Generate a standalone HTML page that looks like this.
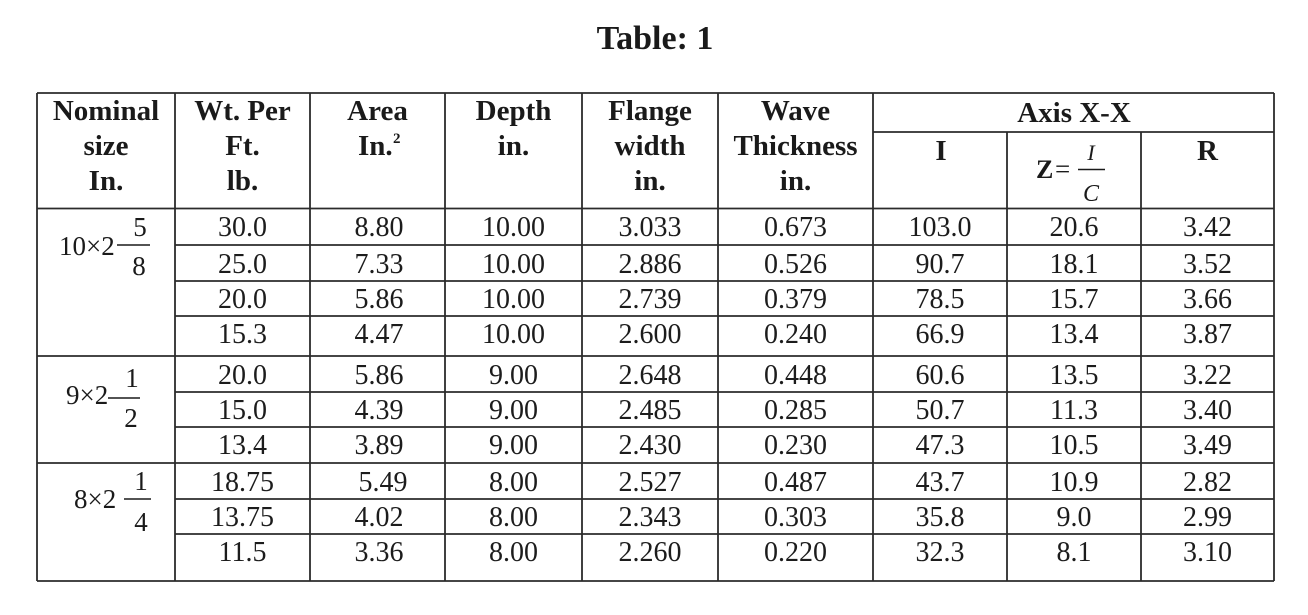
<!DOCTYPE html>
<html>
<head>
<meta charset="utf-8">
<style>
  html,body{margin:0;padding:0;background:#fff;}
  body{width:1308px;height:615px;overflow:hidden;}
  svg{display:block;}
  .t{font-family:"Liberation Serif",serif;fill:#1a1a1a;}
  .h{font-family:"Liberation Serif",serif;font-weight:bold;font-size:29px;fill:#1a1a1a;}
  .d{font-family:"Liberation Serif",serif;font-size:28px;fill:#1c1c1c;}
</style>
</head>
<body>
<svg width="1308" height="615" viewBox="0 0 1308 615" xmlns="http://www.w3.org/2000/svg">
  <rect width="1308" height="615" fill="#fff"/>
  <text class="t" x="655" y="49" text-anchor="middle" font-size="34" font-weight="bold">Table: 1</text>

  <g stroke="#2b2b2b" stroke-width="1.8" fill="none">
    <line x1="37" y1="93" x2="1274" y2="93"/>
    <line x1="873" y1="132" x2="1274" y2="132"/>
    <line x1="37" y1="208.5" x2="1274" y2="208.5"/>
    <line x1="37" y1="356" x2="1274" y2="356"/>
    <line x1="37" y1="463" x2="1274" y2="463"/>
    <line x1="37" y1="581" x2="1274" y2="581"/>
    <line x1="175" y1="245" x2="1274" y2="245"/>
    <line x1="175" y1="281" x2="1274" y2="281"/>
    <line x1="175" y1="316" x2="1274" y2="316"/>
    <line x1="175" y1="392" x2="1274" y2="392"/>
    <line x1="175" y1="427" x2="1274" y2="427"/>
    <line x1="175" y1="499" x2="1274" y2="499"/>
    <line x1="175" y1="534" x2="1274" y2="534"/>
    <line x1="37" y1="93" x2="37" y2="581"/>
    <line x1="175" y1="93" x2="175" y2="581"/>
    <line x1="310" y1="93" x2="310" y2="581"/>
    <line x1="445" y1="93" x2="445" y2="581"/>
    <line x1="582" y1="93" x2="582" y2="581"/>
    <line x1="718" y1="93" x2="718" y2="581"/>
    <line x1="873" y1="93" x2="873" y2="581"/>
    <line x1="1007" y1="132" x2="1007" y2="581"/>
    <line x1="1141" y1="132" x2="1141" y2="581"/>
    <line x1="1274" y1="93" x2="1274" y2="581"/>
  </g>

  <g class="h" text-anchor="middle">
    <text x="106" y="120">Nominal</text>
    <text x="106" y="155">size</text>
    <text x="106" y="190">In.</text>

    <text x="242.5" y="120">Wt. Per</text>
    <text x="242.5" y="155">Ft.</text>
    <text x="242.5" y="190">lb.</text>

    <text x="377.5" y="120">Area</text>

    <text x="513.5" y="120">Depth</text>
    <text x="513.5" y="155">in.</text>

    <text x="650" y="120">Flange</text>
    <text x="650" y="155">width</text>
    <text x="650" y="190">in.</text>

    <text x="795.5" y="120">Wave</text>
    <text x="795.5" y="155">Thickness</text>
    <text x="795.5" y="190">in.</text>

    <text x="1074" y="122">Axis X-X</text>
    <text x="941" y="160">I</text>
    <text x="1207.5" y="160">R</text>
  </g>
  <text class="h" x="358" y="155">In.</text>
  <text class="h" x="393" y="143" style="font-size:15px">2</text>

  <!-- Z = I/C -->
  <text class="t" x="1036" y="178" style="font-size:26px;font-weight:bold">Z</text>
  <text class="t" x="1055" y="178" style="font-size:27px">=</text>
  <line x1="1078" y1="169.5" x2="1105" y2="169.5" stroke="#1a1a1a" stroke-width="1.5"/>
  <text class="t" x="1091" y="160" style="font-size:22px;font-style:italic" text-anchor="middle">I</text>
  <text class="t" x="1091" y="201" style="font-size:24px;font-style:italic" text-anchor="middle">C</text>

  <g class="t" style="font-size:27px">
    <text x="59" y="255">10×2</text>
    <line x1="117" y1="245" x2="150" y2="245" stroke="#1a1a1a" stroke-width="1.5"/>
    <text x="140" y="236" text-anchor="middle">5</text>
    <text x="139" y="275" text-anchor="middle">8</text>

    <text x="66" y="404">9×2</text>
    <line x1="108" y1="398" x2="140" y2="398" stroke="#1a1a1a" stroke-width="1.5"/>
    <text x="132" y="387" text-anchor="middle">1</text>
    <text x="131" y="427" text-anchor="middle">2</text>

    <text x="74" y="508">8×2</text>
    <line x1="124" y1="499" x2="151" y2="499" stroke="#1a1a1a" stroke-width="1.5"/>
    <text x="141" y="490" text-anchor="middle">1</text>
    <text x="141" y="531" text-anchor="middle">4</text>
  </g>

  <g class="d" text-anchor="middle">
    <text x="242.5" y="236">30.0</text><text x="379" y="236">8.80</text><text x="513.5" y="236">10.00</text><text x="650" y="236">3.033</text><text x="795.5" y="236">0.673</text><text x="940" y="236">103.0</text><text x="1074" y="236">20.6</text><text x="1207.5" y="236">3.42</text>
    <text x="242.5" y="273">25.0</text><text x="379" y="273">7.33</text><text x="513.5" y="273">10.00</text><text x="650" y="273">2.886</text><text x="795.5" y="273">0.526</text><text x="940" y="273">90.7</text><text x="1074" y="273">18.1</text><text x="1207.5" y="273">3.52</text>
    <text x="242.5" y="308">20.0</text><text x="379" y="308">5.86</text><text x="513.5" y="308">10.00</text><text x="650" y="308">2.739</text><text x="795.5" y="308">0.379</text><text x="940" y="308">78.5</text><text x="1074" y="308">15.7</text><text x="1207.5" y="308">3.66</text>
    <text x="242.5" y="343">15.3</text><text x="379" y="343">4.47</text><text x="513.5" y="343">10.00</text><text x="650" y="343">2.600</text><text x="795.5" y="343">0.240</text><text x="940" y="343">66.9</text><text x="1074" y="343">13.4</text><text x="1207.5" y="343">3.87</text>
    <text x="242.5" y="384">20.0</text><text x="379" y="384">5.86</text><text x="513.5" y="384">9.00</text><text x="650" y="384">2.648</text><text x="795.5" y="384">0.448</text><text x="940" y="384">60.6</text><text x="1074" y="384">13.5</text><text x="1207.5" y="384">3.22</text>
    <text x="242.5" y="419">15.0</text><text x="379" y="419">4.39</text><text x="513.5" y="419">9.00</text><text x="650" y="419">2.485</text><text x="795.5" y="419">0.285</text><text x="940" y="419">50.7</text><text x="1074" y="419">11.3</text><text x="1207.5" y="419">3.40</text>
    <text x="242.5" y="454">13.4</text><text x="379" y="454">3.89</text><text x="513.5" y="454">9.00</text><text x="650" y="454">2.430</text><text x="795.5" y="454">0.230</text><text x="940" y="454">47.3</text><text x="1074" y="454">10.5</text><text x="1207.5" y="454">3.49</text>
    <text x="242.5" y="491">18.75</text><text x="383" y="491">5.49</text><text x="513.5" y="491">8.00</text><text x="650" y="491">2.527</text><text x="795.5" y="491">0.487</text><text x="940" y="491">43.7</text><text x="1074" y="491">10.9</text><text x="1207.5" y="491">2.82</text>
    <text x="242.5" y="526">13.75</text><text x="379" y="526">4.02</text><text x="513.5" y="526">8.00</text><text x="650" y="526">2.343</text><text x="795.5" y="526">0.303</text><text x="940" y="526">35.8</text><text x="1074" y="526">9.0</text><text x="1207.5" y="526">2.99</text>
    <text x="242.5" y="561">11.5</text><text x="379" y="561">3.36</text><text x="513.5" y="561">8.00</text><text x="650" y="561">2.260</text><text x="795.5" y="561">0.220</text><text x="940" y="561">32.3</text><text x="1074" y="561">8.1</text><text x="1207.5" y="561">3.10</text>
  </g>
</svg>
</body>
</html>
